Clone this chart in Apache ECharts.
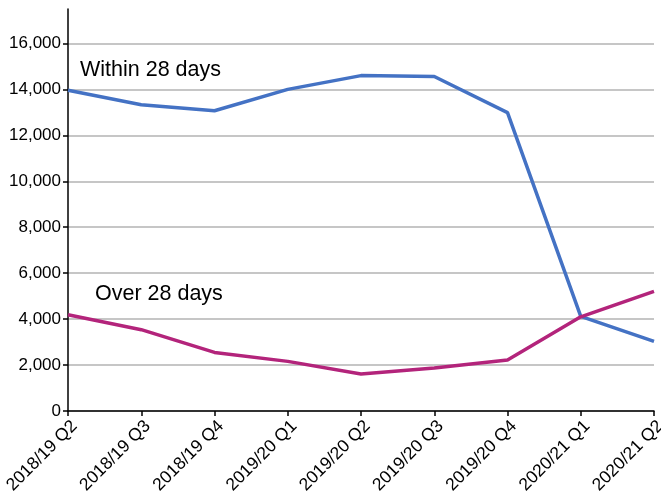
<!DOCTYPE html>
<html>
<head>
<meta charset="utf-8">
<script src="https://cdn.jsdelivr.net/npm/echarts@6/dist/echarts.min.js"></script>
<style>
html,body{margin:0;padding:0;background:#fff;}
#chart{width:661px;height:497px;}
</style>
</head>
<body>
<div id="chart"></div>
<script>
var categories = ['2018/19 Q2','2018/19 Q3','2018/19 Q4','2019/20 Q1','2019/20 Q2','2019/20 Q3','2019/20 Q4','2020/21 Q1','2020/21 Q2'];
var within28 = [13960, 13330, 13070, 14000, 14600, 14560, 12990, 4120, 3030];
var over28 = [4190, 3540, 2550, 2160, 1610, 1870, 2220, 4100, 5210];
var yTicks = [0, 2000, 4000, 6000, 8000, 10000, 12000, 14000, 16000];

var chart = echarts.init(document.getElementById('chart'));
var font = 'Liberation Sans, Arial, sans-serif';
chart.setOption({
  animation: false,
  backgroundColor: '#ffffff',
  grid: { left: 68, right: 7, top: 9, bottom: 86, containLabel: false, outerBoundsMode: 'none' },
  xAxis: {
    type: 'category',
    data: categories,
    boundaryGap: false,
    axisLine: { lineStyle: { color: '#000', width: 1.5 } },
    axisTick: { show: true, length: 5, alignWithLabel: true, lineStyle: { color: '#000', width: 1.5 } },
    axisLabel: { rotate: 45, margin: 6, verticalAlign: 'top', color: '#000', fontSize: 17.5, fontFamily: font, interval: 0, hideOverlap: false },
    splitLine: { show: false }
  },
  yAxis: {
    type: 'value',
    min: 0,
    max: 17500,
    interval: 2000,
    axisLine: { show: true, lineStyle: { color: '#000', width: 1.5 } },
    axisTick: { show: true, length: 5, customValues: yTicks, lineStyle: { color: '#000', width: 1.5 } },
    axisLabel: {
      color: '#000', fontSize: 17, fontFamily: font, margin: 7,
      customValues: yTicks,
      formatter: function (v) { return v.toLocaleString('en-US'); }
    },
    splitLine: { show: true, lineStyle: { color: '#b3b3b3', width: 1.5 } }
  },
  series: [
    {
      name: 'Within 28 days', type: 'line', data: within28, symbol: 'none', smooth: false,
      lineStyle: { color: '#4472c4', width: 3.5 }, itemStyle: { color: '#4472c4' }
    },
    {
      name: 'Over 28 days', type: 'line', data: over28, symbol: 'none', smooth: false,
      lineStyle: { color: '#b3247b', width: 3.5 }, itemStyle: { color: '#b3247b' }
    }
  ],
  graphic: [
    { type: 'text', left: 80, top: 59, style: { text: 'Within 28 days', fill: '#000', font: '21.5px ' + font } },
    { type: 'text', left: 95, top: 283, style: { text: 'Over 28 days', fill: '#000', font: '21.5px ' + font } }
  ]
});
</script>
</body>
</html>
